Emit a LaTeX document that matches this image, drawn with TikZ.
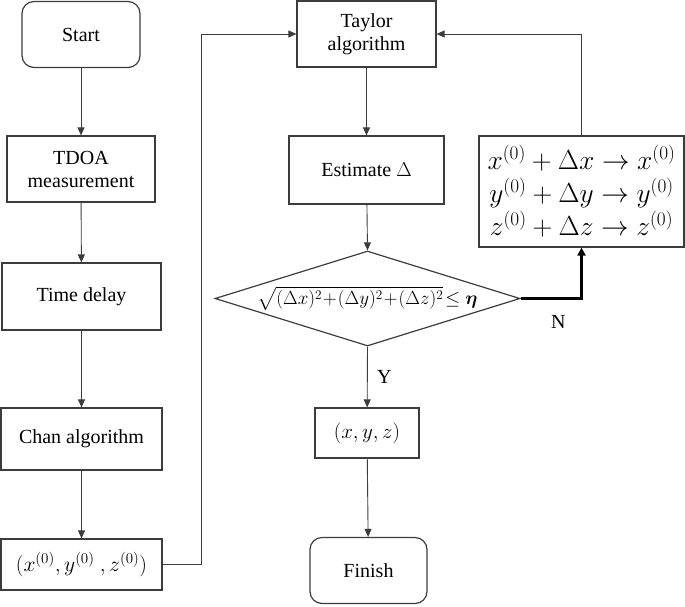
\documentclass[tikz,border=0pt]{standalone}
\usepackage{fix-cm}
\usepackage{amsmath}
\usepackage{amssymb}
\usepackage{bm}
\usepackage{fontspec}
\setmainfont{Liberation Serif}
\usepackage{tikz}
\usepackage{xcolor}
\usetikzlibrary{positioning, arrows.meta}
\usetikzlibrary{shapes, positioning}

\definecolor{linegray}{HTML}{3C3C3C}

\tikzset{
    box/.style={rectangle, draw=linegray, line width=1.2pt, inner sep=2pt, align=center,
        font=\fontsize{20}{23}\selectfont},
    term/.style={box, rounded corners=12pt},
    decision/.style={diamond, draw=linegray, line width=1.2pt, inner sep=0pt,
        minimum width=305pt, minimum height=95pt},
    flow/.style={draw=linegray, line width=0.9pt, -{Triangle[length=8pt, width=7pt]}},
    flowthick/.style={draw=black, line width=2.2pt, -{Triangle[length=8pt, width=8pt]}},
    tag/.style={font=\fontsize{20}{23}\selectfont}
}

\begin{document}
\begin{tikzpicture}[x=1pt, y=-1pt]
            \useasboundingbox (0, 0) rectangle (685, 606);

            % left column
            \node[term, minimum width=118pt, minimum height=66pt] (start) at (81, 34.5) {Start};
            \node[box, minimum width=148pt, minimum height=66pt] (tdoa) at (81, 169) {TDOA\\measurement};
            \node[box, minimum width=159pt, minimum height=67pt] (delay) at (81.5, 296.5) {Time delay};
            \node[box, minimum width=161pt, minimum height=62pt] (chan) at (81.5, 439) {Chan algorithm};
            \node[box, minimum width=161pt, minimum height=51pt, font=\fontsize{21.5}{23}\selectfont] (init) at (81.5, 564.5)
                {$(x^{(0)},y^{(0)}\ ,z^{(0)})$};

            % middle column
            \node[box, minimum width=139pt, minimum height=66pt] (taylor) at (366.5, 34) {Taylor\\algorithm};
            \node[box, minimum width=155pt, minimum height=68pt] (est) at (366.5, 170) {Estimate $\Delta$};
            \node[decision] (cond) at (367.5, 298.5) {};
            \node[font=\fontsize{19}{22}\selectfont, inner sep=0pt] (condtext) at (cond.center)
                {$\sqrt{(\Delta x)^2\!+\!(\Delta y)^2\!+\!(\Delta z)^2}\!\le \bm{\eta}$};
            \node[box, minimum width=104pt, minimum height=50pt, font=\fontsize{21}{23}\selectfont] (xyz) at (367, 433) {$(x,y,z)$};
            \node[term, minimum width=117pt, minimum height=66pt] (finish) at (368.5, 570.5) {Finish};

            % right column
            \node[box, minimum width=205pt, minimum height=111pt, font=\fontsize{27.5}{33}\selectfont] (update) at (581.5, 191.5)
                {$x^{(0)}+\Delta x\rightarrow x^{(0)}$\\$y^{(0)}+\Delta y\rightarrow y^{(0)}$\\$z^{(0)}+\Delta z\rightarrow z^{(0)}$};

            \coordinate (back) at (201, 34);

            \draw[flow] (start) -- (tdoa);
            \draw[flow] (tdoa) -- (delay);
            \draw[flow] (delay) -- (chan);
            \draw[flow] (chan) -- (init);
            \draw[flow] (init.east) -| (back) -- (taylor.west);
            \draw[flow] (taylor) -- (est);
            \draw[flow] (est) -- (cond.north);
            \draw[flow] (cond.south) -- node[tag, right=6pt] {Y} (xyz);
            \draw[flow] (xyz) -- (finish);
            \draw[flowthick] (cond.east) -| node[tag, below=12pt, pos=0.31] {N} (update.south);
            \draw[flow] (update.north) |- (taylor.east);
        \end{tikzpicture}
\end{document}
